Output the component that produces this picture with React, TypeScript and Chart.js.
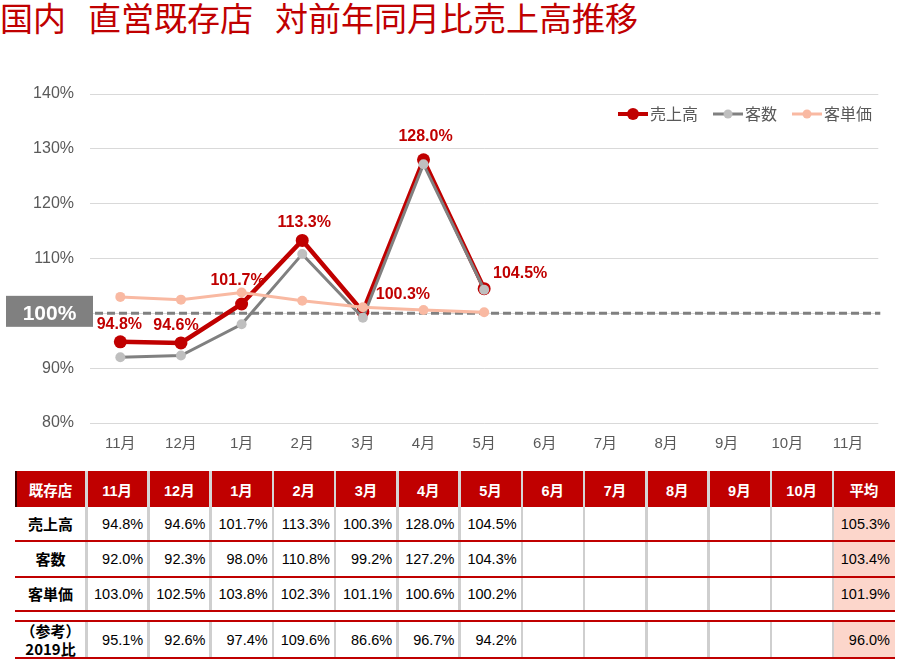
import React, { useEffect, useRef } from 'react';
import { Chart, registerables } from 'chart.js';

Chart.register(...registerables);

// ---------- data ----------
const chartMonths = ['11月', '12月', '1月', '2月', '3月', '4月', '5月', '6月', '7月', '8月', '9月', '10月', '11月'];
const seriesNames = ['売上高', '客数', '客単価'];
const salesYoY = [94.8, 94.6, 101.7, 113.3, 100.3, 128.0, 104.5];
const customersYoY = [92.0, 92.3, 98.0, 110.8, 99.2, 127.2, 104.3];
const spendYoY = [103.0, 102.5, 103.8, 102.3, 101.1, 100.6, 100.2];
const vs2019 = [95.1, 92.6, 97.4, 109.6, 86.6, 96.7, 94.2];
const tableMonths = ['11月', '12月', '1月', '2月', '3月', '4月', '5月', '6月', '7月', '8月', '9月', '10月'];
const avgSales = 105.3;
const avgCustomers = 103.4;
const avgSpend = 101.9;
const avgVs2019 = 96.0;
const yMin = 80;
const yMax = 140;
const yStep = 10;
const refValue = 100;

// ---------- styles ----------
const RED = '#c00000';
const GRAY_LINE = '#808080';
const GRAY_POINT = '#bfbfbf';
const SALMON = '#f9b9a2';
const TEXT_GRAY = '#595959';
const FONT = '"Liberation Sans", "Noto Sans CJK JP", sans-serif';
const JP_FONT = '"Noto Sans CJK JP", "Liberation Sans", sans-serif';
// label offsets (dx, dy) relative to each sales point
const labelOffsets: [number, number][] = [
  [-1, -17], [-5, -17], [-4, -23], [2, -18], [40, -17], [2, -23], [36, -15],
];

const refLinePlugin = {
  id: 'refLine',
  beforeDatasetsDraw(chart: any) {
    const { ctx, chartArea, scales } = chart;
    const y = scales.y.getPixelForValue(refValue);
    ctx.save();
    ctx.strokeStyle = GRAY_LINE;
    ctx.lineWidth = 3;
    ctx.setLineDash([8, 4]);
    ctx.beginPath();
    ctx.moveTo(95, y);
    ctx.lineTo(chartArea.right + 2, y);
    ctx.stroke();
    ctx.setLineDash([]);
    ctx.fillStyle = GRAY_LINE;
    ctx.fillRect(6, y - 17.5, 87, 31);
    ctx.fillStyle = '#ffffff';
    ctx.font = 'bold 21px "Liberation Sans", sans-serif';
    ctx.textAlign = 'center';
    ctx.textBaseline = 'middle';
    ctx.fillText(refValue + '%', 49.5, y + 1);
    ctx.restore();
  },
};

const labelPlugin = {
  id: 'salesLabels',
  afterDatasetsDraw(chart: any) {
    const { ctx } = chart;
    const meta = chart.getDatasetMeta(0);
    ctx.save();
    ctx.fillStyle = RED;
    ctx.font = 'bold 16px "Liberation Sans", sans-serif';
    ctx.textAlign = 'center';
    ctx.textBaseline = 'middle';
    meta.data.forEach((pt: any, i: number) => {
      const [dx, dy] = labelOffsets[i] || [0, -17];
      ctx.fillText(salesYoY[i].toFixed(1) + '%', pt.x + dx, pt.y + dy);
    });
    ctx.restore();
  },
};

const legendPlugin = {
  id: 'customLegend',
  afterDraw(chart: any) {
    const { ctx } = chart;
    const items = [
      { name: seriesNames[0], line: RED, point: RED, lw: 4, r: 6 },
      { name: seriesNames[1], line: GRAY_LINE, point: GRAY_POINT, lw: 3, r: 4.5 },
      { name: seriesNames[2], line: SALMON, point: SALMON, lw: 3, r: 4.5 },
    ];
    ctx.save();
    ctx.font = '16px ' + JP_FONT;
    ctx.textBaseline = 'middle';
    ctx.textAlign = 'left';
    let x = 618;
    const y = 112;
    items.forEach((it) => {
      ctx.strokeStyle = it.line;
      ctx.lineWidth = it.lw;
      ctx.beginPath();
      ctx.moveTo(x, y);
      ctx.lineTo(x + 30, y);
      ctx.stroke();
      ctx.fillStyle = it.point;
      ctx.beginPath();
      ctx.arc(x + 15, y, it.r, 0, Math.PI * 2);
      ctx.fill();
      ctx.fillStyle = TEXT_GRAY;
      ctx.fillText(it.name, x + 32, y);
      x = x + 32 + ctx.measureText(it.name).width + 15;
    });
    ctx.restore();
  },
};

function LineChart() {
  const ref = useRef<HTMLCanvasElement | null>(null);
  useEffect(() => {
    if (!ref.current) return;
    const chart = new Chart(ref.current, {
      type: 'line',
      data: {
        labels: chartMonths,
        datasets: [
          {
            label: seriesNames[0],
            data: salesYoY,
            borderColor: RED,
            backgroundColor: RED,
            pointBackgroundColor: RED,
            pointBorderColor: RED,
            pointBorderWidth: 0,
            borderWidth: 4.5,
            pointRadius: 6.5,
            tension: 0,
            order: 3,
          },
          {
            label: seriesNames[1],
            data: customersYoY,
            borderColor: GRAY_LINE,
            backgroundColor: GRAY_POINT,
            pointBackgroundColor: GRAY_POINT,
            pointBorderColor: GRAY_POINT,
            pointBorderWidth: 0,
            borderWidth: 3,
            pointRadius: 5,
            tension: 0,
            order: 2,
          },
          {
            label: seriesNames[2],
            data: spendYoY,
            borderColor: SALMON,
            backgroundColor: SALMON,
            pointBackgroundColor: SALMON,
            pointBorderColor: SALMON,
            pointBorderWidth: 0,
            borderWidth: 3,
            pointRadius: 5,
            tension: 0,
            order: 1,
          },
        ],
      },
      options: {
        animation: false,
        responsive: false,
        events: [],
        layout: { padding: { left: 0, right: 18.7, top: 92, bottom: 0 } },
        plugins: {
          legend: { display: false },
          tooltip: { enabled: false },
        },
        scales: {
          x: {
            offset: true,
            grid: { display: false },
            border: { display: false },
            ticks: {
              color: TEXT_GRAY,
              font: { size: 15, family: FONT },
              padding: 4,
              maxRotation: 0,
              autoSkip: false,
            },
            afterFit: (s: any) => {
              s.height = 44;
            },
          },
          y: {
            min: yMin,
            max: yMax,
            grid: { color: '#d9d9d9', lineWidth: 1, drawTicks: false },
            border: { display: false },
            ticks: {
              stepSize: yStep,
              padding: 16,
              color: TEXT_GRAY,
              font: { size: 16, family: FONT },
              callback: (v: any) => (Number(v) === refValue ? '' : v + '%'),
            },
            afterFit: (s: any) => {
              s.width = 90;
            },
          },
        },
      },
      plugins: [refLinePlugin, labelPlugin, legendPlugin],
    });
    return () => chart.destroy();
  }, []);
  return (
    <canvas
      ref={ref}
      width={897}
      height={465}
      style={{ position: 'absolute', left: 0, top: 2, width: 897, height: 465 }}
    />
  );
}

// ---------- table ----------
const T_LEFT = 15;
const T_COL0_R = 86;
const T_RIGHT = 895;
const N_COLS = tableMonths.length + 1;
const COL_W = (T_RIGHT - T_COL0_R) / N_COLS;
const colLeft = (i: number) => T_COL0_R + i * COL_W;

const HEADER_TOP = 471;
const HEADER_H = 36;
const bodyRows = [
  { label: seriesNames[0], values: salesYoY, avg: avgSales, top: 507, h: 34 },
  { label: seriesNames[1], values: customersYoY, avg: avgCustomers, top: 541, h: 36 },
  { label: seriesNames[2], values: spendYoY, avg: avgSpend, top: 577, h: 34 },
  { label: '（参考）\n2019比', values: vs2019, avg: avgVs2019, top: 621, h: 37 },
];
const PINK = '#fcd6cb';

function Table() {
  const els: React.ReactNode[] = [];
  els.push(
    <div key="hbg" style={{ position: 'absolute', left: T_LEFT, top: HEADER_TOP, width: T_RIGHT - T_LEFT, height: HEADER_H, background: RED, borderLeft: '2px solid #3a0000', boxSizing: 'border-box' }} />
  );
  bodyRows.forEach((r, i) => {
    els.push(
      <div key={'pk' + i} style={{ position: 'absolute', left: colLeft(N_COLS - 1), top: r.top, width: COL_W, height: r.h, background: PINK }} />
    );
  });
  const segs = [
    { top: HEADER_TOP, h: HEADER_H, color: '#d6d6d6' },
    { top: 507, h: 104, color: '#cfcfcf' },
    { top: 621, h: 37, color: '#cfcfcf' },
  ];
  segs.forEach((s, si) => {
    for (let i = 0; i < N_COLS; i++) {
      els.push(
        <div key={'v' + si + '_' + i} style={{ position: 'absolute', left: colLeft(i) - 1, top: s.top, width: 2.5, height: s.h, background: s.color }} />
      );
    }
  });
  [541, 577, 611, 621, 658].forEach((y, i) => {
    els.push(
      <div key={'h' + i} style={{ position: 'absolute', left: T_LEFT, top: y - 1, width: T_RIGHT - T_LEFT, height: 1.5, background: RED }} />
    );
  });
  const headerLabels = ['既存店', ...tableMonths, '平均'];
  headerLabels.forEach((t, i) => {
    const left = i === 0 ? T_LEFT : colLeft(i - 1);
    const width = i === 0 ? T_COL0_R - T_LEFT : COL_W;
    els.push(
      <div key={'ht' + i} style={{ position: 'absolute', left, top: HEADER_TOP, width, height: HEADER_H, display: 'flex', alignItems: 'center', justifyContent: 'center', color: '#ffffff', fontWeight: 'bold', fontSize: 14.5, fontFamily: FONT }}>
        {t}
      </div>
    );
  });
  bodyRows.forEach((r, ri) => {
    const lines = r.label.split('\n');
    els.push(
      <div key={'rl' + ri} style={{ position: 'absolute', left: T_LEFT, top: r.top, width: T_COL0_R - T_LEFT, height: r.h, display: 'flex', flexDirection: 'column', alignItems: 'center', justifyContent: 'center', color: '#000', fontWeight: 'bold', fontSize: 15, lineHeight: lines.length > 1 ? '18px' : '20px', fontFamily: JP_FONT }}>
        {lines.map((l, k) => (
          <span key={k}>{l}</span>
        ))}
      </div>
    );
    const cells: (number | null)[] = tableMonths.map((_, i) => (i < r.values.length ? r.values[i] : null));
    cells.push(r.avg);
    cells.forEach((v, ci) => {
      if (v === null) return;
      els.push(
        <div key={'c' + ri + '_' + ci} style={{ position: 'absolute', left: colLeft(ci), top: r.top, width: COL_W - 5, height: r.h, display: 'flex', alignItems: 'center', justifyContent: 'flex-end', color: '#000', fontSize: 14.5, fontFamily: FONT }}>
          {v.toFixed(1) + '%'}
        </div>
      );
    });
  });
  return <>{els}</>;
}

export default function App() {
  return (
    <div style={{ position: 'fixed', left: 0, top: 0, width: 897, height: 667, background: '#ffffff', overflow: 'hidden' }}>
      <div style={{ position: 'absolute', left: 0, top: -3, whiteSpace: 'nowrap', color: RED, fontSize: 33, lineHeight: '40px', fontFamily: JP_FONT }}>
        <span>国内</span>
        <span style={{ marginLeft: 22 }}>直営既存店</span>
        <span style={{ marginLeft: 22 }}>対前年同月比売上高推移</span>
      </div>
      <LineChart />
      <Table />
    </div>
  );
}
